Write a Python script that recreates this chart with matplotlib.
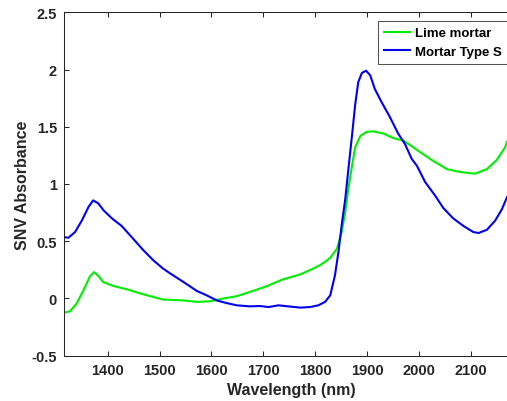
import numpy as np
import matplotlib.pyplot as plt

plt.rcParams['font.family'] = ['Liberation Sans', 'DejaVu Sans']
plt.rcParams['font.weight'] = 'bold'

# Lime mortar spectrum (wavelength nm, SNV absorbance)
lime_wl = [1315, 1327, 1340, 1353, 1366, 1374, 1382, 1391, 1411, 1437,
           1469, 1507, 1546, 1572, 1597, 1623, 1649, 1674, 1706, 1736,
           1771, 1796, 1809, 1819, 1829, 1842, 1851, 1858, 1864, 1871,
           1877, 1887, 1899, 1912, 1932, 1951, 1970, 1986, 2002, 2028,
           2054, 2079, 2108, 2131, 2150, 2166, 2170]
lime_abs = [-0.124, -0.113, -0.045, 0.07, 0.196, 0.23, 0.196, 0.144, 0.109, 0.08,
            0.036, -0.01, -0.017, -0.03, -0.025, 0.0, 0.02, 0.057, 0.106, 0.164,
            0.21, 0.26, 0.29, 0.32, 0.355, 0.435, 0.58, 0.755, 0.96, 1.16,
            1.32, 1.42, 1.455, 1.46, 1.44, 1.40, 1.38, 1.33, 1.28, 1.20,
            1.13, 1.105, 1.09, 1.13, 1.21, 1.32, 1.37]

# Mortar Type S spectrum
types_wl = [1315, 1324, 1337, 1350, 1363, 1372, 1382, 1392, 1408, 1427,
            1446, 1469, 1488, 1507, 1520, 1546, 1572, 1591, 1610, 1629,
            1649, 1674, 1694, 1710, 1729, 1748, 1771, 1790, 1806, 1819,
            1829, 1838, 1845, 1851, 1858, 1864, 1871, 1877, 1883, 1890,
            1898, 1906, 1915, 1928, 1944, 1960, 1973, 1986, 1996, 2012,
            2031, 2047, 2066, 2086, 2105, 2115, 2131, 2147, 2160, 2170]
types_abs = [0.537, 0.53, 0.58, 0.68, 0.80, 0.857, 0.83, 0.77, 0.70, 0.633,
             0.537, 0.42, 0.333, 0.26, 0.22, 0.144, 0.065, 0.027, -0.017, -0.04,
             -0.06, -0.069, -0.066, -0.075, -0.06, -0.069, -0.08, -0.075, -0.06, -0.03,
             0.027, 0.20, 0.41, 0.64, 0.87, 1.13, 1.425, 1.69, 1.89, 1.97,
             1.99, 1.95, 1.83, 1.715, 1.585, 1.44, 1.35, 1.22, 1.16, 1.017,
             0.90, 0.79, 0.70, 0.633, 0.58, 0.572, 0.60, 0.68, 0.78, 0.886]

xticks = [1400, 1500, 1600, 1700, 1800, 1900, 2000, 2100]
yticks = [-0.5, 0, 0.5, 1, 1.5, 2, 2.5]
ytick_labels = ['-0.5', '0', '0.5', '1', '1.5', '2', '2.5']

W, H = 507, 402
fig = plt.figure(figsize=(W / 100, H / 100), dpi=100)
# axes run slightly past the right edge of the picture (cropped original)
ax = fig.add_axes([64 / W, (H - 356.7) / H, 454 / W, 343.4 / H])

dark = '#262626'
ax.plot(lime_wl, lime_abs, color='#00ee00', lw=1.5, label='Lime mortar')
ax.plot(types_wl, types_abs, color='#0000ee', lw=1.5, label='Mortar Type S')

ax.set_xlim(1315.7, 2191)
ax.set_ylim(-0.5, 2.5)
ax.set_xticks(xticks)
ax.set_yticks(yticks)
ax.set_yticklabels(ytick_labels)
ax.tick_params(direction='in', length=3.5, width=0.75, colors=dark,
               labelsize=10.5, top=True, right=True, pad=5)
for s in ax.spines.values():
    s.set_color(dark)
    s.set_linewidth(0.75)

ax.set_xlabel('Wavelength (nm)', fontsize=11.5, fontweight='bold', color=dark, labelpad=4)
ax.set_ylabel('SNV Absorbance', fontsize=11.5, fontweight='bold', color=dark, labelpad=1)

leg = ax.legend(loc='upper left', bbox_to_anchor=(377.7 / W, (H - 22.3) / H),
                bbox_transform=fig.transFigure, fontsize=9.5, frameon=True,
                fancybox=False, handlelength=2.0, handletextpad=0.4,
                borderpad=0.45, labelspacing=0.45, borderaxespad=0)
leg.get_frame().set_edgecolor(dark)
leg.get_frame().set_linewidth(0.75)
for t in leg.get_texts():
    t.set_color('black')

fig.savefig('out.png', dpi=100)
